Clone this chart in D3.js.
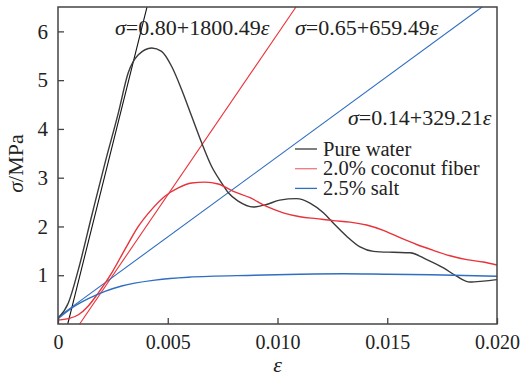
<!DOCTYPE html>
<html>
<head>
<meta charset="utf-8">
<script src="https://cdn.jsdelivr.net/npm/d3@7"></script>
<style>
  body { margin: 0; background: #fff; }
  svg text { font-family: "Liberation Serif", "Times New Roman", Times, "DejaVu Serif", serif; fill: #222; }
</style>
</head>
<body>
<div id="chart"></div>
<script>
// strain / stress curves
var waterStrain = [0, 0.00047, 0.00093, 0.00153, 0.00214, 0.00275, 0.0032, 0.00366, 0.00427, 0.00472, 0.00518, 0.00563, 0.00609, 0.00655, 0.007, 0.00746, 0.00776, 0.00821, 0.0089, 0.0095, 0.0101, 0.01087, 0.01148, 0.01209, 0.01254, 0.01315, 0.01376, 0.01437, 0.01528, 0.01604, 0.0168, 0.01756, 0.01816, 0.01877, 0.01938, 0.02];
var waterStress = [0.11, 0.43, 1.12, 2.21, 3.30, 4.33, 5.15, 5.52, 5.66, 5.59, 5.28, 4.81, 4.26, 3.71, 3.23, 2.89, 2.69, 2.52, 2.40, 2.45, 2.54, 2.57, 2.48, 2.28, 2.07, 1.80, 1.58, 1.49, 1.47, 1.46, 1.32, 1.15, 0.98, 0.86, 0.88, 0.91];

var fiberStrain = [0, 0.00047, 0.00093, 0.00138, 0.00184, 0.00245, 0.00305, 0.00366, 0.00427, 0.00487, 0.00548, 0.00609, 0.0067, 0.0073, 0.00799, 0.00875, 0.0095, 0.01026, 0.01103, 0.01178, 0.01254, 0.0133, 0.01406, 0.01482, 0.01558, 0.01634, 0.0171, 0.01786, 0.01862, 0.01938, 0.02];
var fiberStress = [0.08, 0.11, 0.19, 0.37, 0.64, 1.05, 1.53, 2.0, 2.35, 2.62, 2.79, 2.89, 2.91, 2.87, 2.72, 2.59, 2.41, 2.28, 2.20, 2.16, 2.12, 2.09, 2.03, 1.92, 1.77, 1.63, 1.51, 1.40, 1.32, 1.27, 1.21];

var saltStrain = [0, 0.00077, 0.00138, 0.00214, 0.0029, 0.00442, 0.00594, 0.00897, 0.011, 0.013, 0.015, 0.017, 0.02];
var saltStress = [0.11, 0.37, 0.52, 0.67, 0.78, 0.90, 0.96, 1.0, 1.02, 1.03, 1.02, 1.01, 0.98];

// linear fits: intercept, slope
var fitIntercepts = [-0.80, -0.65, 0.14];
var fitSlopes = [1800.49, 659.49, 329.21];
var fitLabels = ["0.80+1800.49", "0.65+659.49", "0.14+329.21"];

var seriesNames = ["Pure water", "2.0% coconut fiber", "2.5% salt"];
var colors = ["#3a3a3a", "#e8333b", "#2f6ec0"];
var fitColors = ["#111111", "#e8333b", "#2f6ec0"];

var xTicks = [0, 0.005, 0.010, 0.015, 0.020];
var xTickLabels = ["0", "0.005", "0.010", "0.015", "0.020"];
var yTicks = [1, 2, 3, 4, 5, 6];

var serif = "'Liberation Serif', 'Times New Roman', Times, 'DejaVu Serif', serif";

var margin = {top: 7, right: 26, bottom: 55, left: 58},
    width = 523 - margin.left - margin.right,
    height = 379 - margin.top - margin.bottom;

var svg = d3.select("#chart")
  .append("svg")
    .attr("width", 523)
    .attr("height", 379)
  .append("g")
    .attr("transform", "translate(" + margin.left + "," + margin.top + ")");

var x = d3.scaleLinear().domain([0, 0.02]).range([0, width]);
var y = d3.scaleLinear().domain([0, 6.5]).range([height, 0]);

svg.append("clipPath").attr("id", "clip")
  .append("rect").attr("width", width).attr("height", height);

var plot = svg.append("g").attr("clip-path", "url(#clip)");

var line = d3.line()
  .x(d => x(d[0]))
  .y(d => y(d[1]))
  .curve(d3.curveMonotoneX);

var curves = [
  d3.zip(waterStrain, waterStress),
  d3.zip(fiberStrain, fiberStress),
  d3.zip(saltStrain, saltStress)
];

// fit lines
fitSlopes.forEach(function(s, i) {
  var b = fitIntercepts[i];
  var e0 = Math.max(0, -b / s);
  var e1 = (6.5 - b) / s;
  plot.append("line")
    .attr("x1", x(e0)).attr("y1", y(b + s * e0))
    .attr("x2", x(e1)).attr("y2", y(b + s * e1))
    .attr("stroke", fitColors[i])
    .attr("stroke-width", 1.1);
});

curves.forEach(function(c, i) {
  plot.append("path")
    .datum(c)
    .attr("d", line)
    .attr("fill", "none")
    .attr("stroke", colors[i])
    .attr("stroke-width", 1.4);
});

// frame
svg.append("rect")
  .attr("width", width).attr("height", height)
  .attr("fill", "none").attr("stroke", "#444").attr("stroke-width", 1.5);

// X axis
var xAxis = svg.append("g")
  .attr("transform", "translate(0," + height + ")")
  .call(d3.axisBottom(x).tickValues(xTicks).tickSizeInner(-6).tickSizeOuter(0)
    .tickFormat((d, i) => xTickLabels[i]).tickPadding(11));
xAxis.attr("font-family", serif);
xAxis.select(".domain").remove();
xAxis.selectAll("line").attr("stroke", "#444").attr("stroke-width", 1.3);
xAxis.selectAll("text").attr("font-size", 20).style("font-family", serif).attr("fill", "#222");

// Y axis
var yAxis = svg.append("g")
  .call(d3.axisLeft(y).tickValues(yTicks).tickSizeInner(-6).tickSizeOuter(0)
    .tickFormat(d3.format("d")).tickPadding(10));
yAxis.attr("font-family", serif);
yAxis.select(".domain").remove();
yAxis.selectAll("line").attr("stroke", "#444").attr("stroke-width", 1.3);
yAxis.selectAll("text").attr("font-size", 21).style("font-family", serif).attr("fill", "#222");

// axis titles
svg.append("text")
  .attr("x", width / 2).attr("y", height + 48)
  .attr("text-anchor", "middle")
  .attr("font-size", 22).attr("font-style", "italic")
  .style("font-family", serif)
  .text("ε");

svg.append("text")
  .attr("transform", "translate(-35," + (height / 2 - 2) + ")rotate(-90)")
  .attr("text-anchor", "middle")
  .attr("font-size", 22)
  .style("font-family", serif)
  .call(t => {
    t.append("tspan").attr("font-style", "italic").text("σ");
    t.append("tspan").text("/MPa");
  });

// fit equations
var eqPos = [[57, 28], [237, 28], [290, 118]];
fitLabels.forEach(function(lab, i) {
  var t = svg.append("text")
    .attr("x", eqPos[i][0]).attr("y", eqPos[i][1])
    .attr("font-size", 22)
    .style("font-family", serif);
  t.append("tspan").attr("font-style", "italic").text("σ");
  t.append("tspan").text("=" + lab);
  t.append("tspan").attr("font-style", "italic").text("ε");
});

// legend
var legend = svg.append("g").attr("transform", "translate(237,142)");
seriesNames.forEach(function(n, i) {
  var g = legend.append("g").attr("transform", "translate(0," + (i * 19.7) + ")");
  g.append("line").attr("x1", 0).attr("x2", 22)
    .attr("stroke", i == 1 ? "#f07a7f" : colors[i]).attr("stroke-width", 1.3);
  g.append("text").attr("x", 28).attr("dy", "0.33em")
    .attr("font-size", 20.5).style("font-family", serif).text(n);
});
</script>
</body>
</html>
